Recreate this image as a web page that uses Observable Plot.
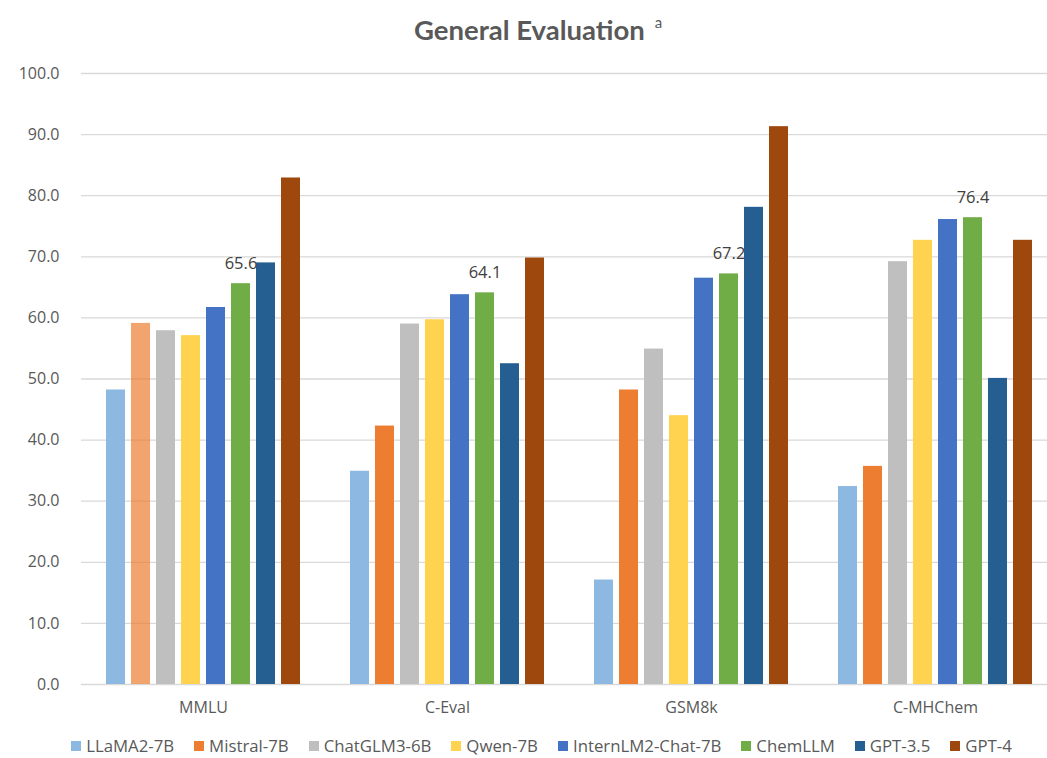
<!DOCTYPE html>
<html>
<head>
<meta charset="utf-8">
<script src="https://cdn.jsdelivr.net/npm/d3@7"></script>
<script src="https://cdn.jsdelivr.net/npm/@observablehq/plot@0.6"></script>
<style>
  html, body { margin: 0; padding: 0; background: #fff; }
  #wrap { position: relative; width: 1047px; height: 758px; overflow: hidden; font-family: "Open Sans", sans-serif; }
  #title { position: absolute; left: 414px; top: 7px; font-family: Lato, "Open Sans", sans-serif; font-weight: bold; font-size: 27.5px; line-height: 34px; color: #595959; white-space: nowrap; }
  #title sup { font-weight: normal; font-size: 15px; margin-left: 10px; position: relative; top: -2px; }
  #chart { position: absolute; left: 0; top: 60px; }
  #legend { position: absolute; left: 18px; top: 736px; width: 1047px; height: 20px; display: flex; justify-content: center; gap: 20px; font-size: 16.8px; line-height: 20px; color: #595959; }
  #legend .item { display: flex; align-items: center; gap: 5px; white-space: nowrap; }
  #legend .sw { width: 10px; height: 10px; display: inline-block; }
</style>
</head>
<body>
<div id="wrap">
  <div id="title">General Evaluation<sup>a</sup></div>
  <div id="chart"></div>
  <div id="legend"></div>
</div>
<script>
const categories = ["MMLU", "C-Eval", "GSM8k", "C-MHChem"];
const models = ["LLaMA2-7B", "Mistral-7B", "ChatGLM3-6B", "Qwen-7B", "InternLM2-Chat-7B", "ChemLLM", "GPT-3.5", "GPT-4"];
const colors = ["#8DB8E1", "#ED7D31", "#BFBFBF", "#FFD34F", "#4472C4", "#70AD47", "#255E91", "#9E480E"];
const llama2 = [48.2, 34.9, 17.1, 32.4];
const mistral = [59.1, 42.3, 48.2, 35.7];
const chatglm3 = [57.9, 59.0, 54.9, 69.2];
const qwen = [57.1, 59.7, 44.0, 72.7];
const internlm2 = [61.7, 63.8, 66.5, 76.1];
const chemllm = [65.6, 64.1, 67.2, 76.4];
const gpt35 = [69.0, 52.5, 78.1, 50.1];
const gpt4 = [82.9, 69.8, 91.3, 72.7];
const yTicks = [0, 10, 20, 30, 40, 50, 60, 70, 80, 90, 100];
const labeledModel = "ChemLLM";

const series = [llama2, mistral, chatglm3, qwen, internlm2, chemllm, gpt35, gpt4];
const data = [];
categories.forEach((c, ci) => {
  models.forEach((m, mi) => {
    data.push({category: c, model: m, value: series[mi][ci]});
  });
});

const chart = Plot.plot({
  width: 1047,
  height: 670,
  marginLeft: 79,
  marginRight: -11,
  marginTop: 13,
  marginBottom: 46,
  style: {fontFamily: "'Open Sans', sans-serif", color: "#595959", background: "#fff"},
  fx: {domain: categories, padding: 0, label: null},
  x: {domain: models, paddingInner: 0.222, paddingOuter: 0.87, axis: null},
  y: {domain: [0, 100], axis: null},
  color: {domain: models, range: colors},
  marks: [
    Plot.gridY({ticks: yTicks, stroke: "#D9D9D9", strokeOpacity: 1, strokeWidth: 1.3}),
    Plot.barY(data, {
      fx: "category", x: "model", y: "value", fill: "model",
      fillOpacity: d => (d.model === "Mistral-7B" && d.category === "MMLU") ? 0.7 : 1
    }),
    Plot.text(data.filter(d => d.model === labeledModel), {
      fx: "category", x: "model", y: "value", text: d => d.value.toFixed(1),
      dy: -20, fill: "#404040", fontSize: 16.5
    }),
    Plot.axisY({ticks: yTicks, tickFormat: d => d.toFixed(1), tickSize: 0, tickPadding: 22, fontSize: 16, label: null, fill: "#595959"}),
    Plot.axisFx({anchor: "bottom", tickSize: 0, tickPadding: 17, fontSize: 16, label: null, fill: "#595959"})
  ]
});
document.getElementById("chart").appendChild(chart);

const legend = document.getElementById("legend");
models.forEach((m, i) => {
  const it = document.createElement("div");
  it.className = "item";
  const sw = document.createElement("span");
  sw.className = "sw";
  sw.style.background = colors[i];
  const t = document.createElement("span");
  t.textContent = m;
  it.appendChild(sw);
  it.appendChild(t);
  legend.appendChild(it);
});
</script>
</body>
</html>
